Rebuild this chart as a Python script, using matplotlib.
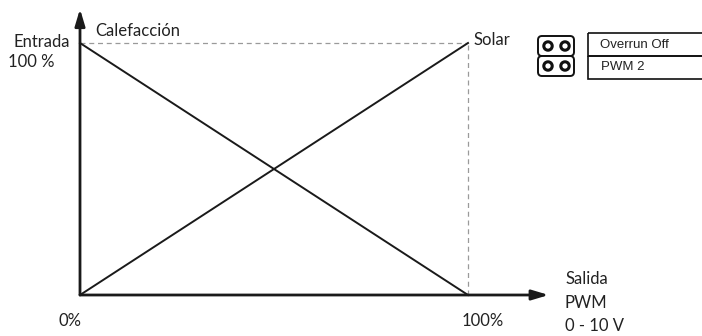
import matplotlib
matplotlib.use("Agg")
import matplotlib.pyplot as plt
from matplotlib.patches import FancyBboxPatch, Circle, Rectangle

# Data
output_pct = [0, 100]
heating_input = [100, 0]   # Calefacción
solar_input = [0, 100]     # Solar
x_tick_labels = ["0%", "100%"]
legend_rows = ["Overrun Off", "PWM 2"]

W, H = 702, 336
fig = plt.figure(figsize=(W / 100, H / 100), dpi=100)
FONT = ["Lato", "DejaVu Sans"]

# main axes: data 0..100 maps to pixels x 80..468, y 295..43
x0, x1, y0, y1 = 80, 468, 295, 43
ax = fig.add_axes([x0 / W, (H - y0) / H, (x1 - x0) / W, (y0 - y1) / H])
ax.set_xlim(0, 100)
ax.set_ylim(0, 100)
ax.axis("off")

# dashed guides
ax.plot([0, 100], [100, 100], ls=(0, (4, 3)), color="#9a9a9a", lw=0.9, clip_on=False)
ax.plot([100, 100], [0, 100], ls=(0, (4, 3)), color="#9a9a9a", lw=0.9, clip_on=False)

# diagonal lines
ax.plot(output_pct, heating_input, color="#1a1a1a", lw=1.4, clip_on=False)
ax.plot(output_pct, solar_input, color="#1a1a1a", lw=1.4, clip_on=False)

# axes with arrows
ax.annotate("", xy=(120.8, 0), xytext=(0, 0),
            arrowprops=dict(arrowstyle="-|>,head_length=1.0,head_width=0.3",
                            color="#1a1a1a", lw=2.0, shrinkA=0, shrinkB=0),
            annotation_clip=False)
ax.annotate("", xy=(0, 113.5), xytext=(0, 0),
            arrowprops=dict(arrowstyle="-|>,head_length=1.0,head_width=0.3",
                            color="#1a1a1a", lw=2.0, shrinkA=0, shrinkB=0),
            annotation_clip=False)

fs = 12
c = "#222"
ax.text(-2.6, 100.5, "Entrada", ha="right", va="center", fontsize=fs, family=FONT, color=c)
ax.text(-18.6, 92.6, "100 %", ha="left", va="center", fontsize=fs, family=FONT, color=c)
ax.text(4.0, 104.8, "Calefacción", ha="left", va="center", fontsize=fs, family=FONT, color=c)
ax.text(1.3 + 100, 101.3, "Solar", ha="left", va="center", fontsize=fs, family=FONT, color=c)
ax.text(-2.6, -10.3, x_tick_labels[0], ha="center", va="center", fontsize=fs, family=FONT, color=c)
ax.text(103.9, -10.3, x_tick_labels[1], ha="center", va="center", fontsize=fs, family=FONT, color=c)
ax.text(125.0, 6.5, "Salida", ha="left", va="center", fontsize=fs, family=FONT, color=c)
ax.text(125.0, -3.0, "PWM", ha="left", va="center", fontsize=fs, family=FONT, color=c)
ax.text(125.0, -12.3, "0 - 10 V", ha="left", va="center", fontsize=fs, family=FONT, color=c)

# legend / jumper overlay (pixel coordinates, decoration only)
ov = fig.add_axes([0, 0, 1, 1])
ov.set_xlim(0, W)
ov.set_ylim(H, 0)
ov.axis("off")
for yy in (36, 56):
    ov.add_patch(FancyBboxPatch((538, yy), 36, 20, boxstyle="round,pad=0,rounding_size=4",
                                fc="white", ec="#111", lw=1.4))
    for cx in (548, 565):
        ov.add_patch(Circle((cx, yy + 10), 4.2, fc="white", ec="#111", lw=2.2))
ov.add_patch(Rectangle((588, 33), 130, 23, fc="none", ec="#111", lw=1.2, clip_on=False))
ov.add_patch(Rectangle((588, 56), 130, 23, fc="none", ec="#111", lw=1.2, clip_on=False))
ov.text(600, 44.5, legend_rows[0], ha="left", va="center", fontsize=9.5,
        family=["Liberation Sans", "DejaVu Sans"], color=c)
ov.text(601, 67.5, legend_rows[1], ha="left", va="center", fontsize=9.5,
        family=["Liberation Sans", "DejaVu Sans"], color=c)

fig.savefig("out.png", dpi=100)
